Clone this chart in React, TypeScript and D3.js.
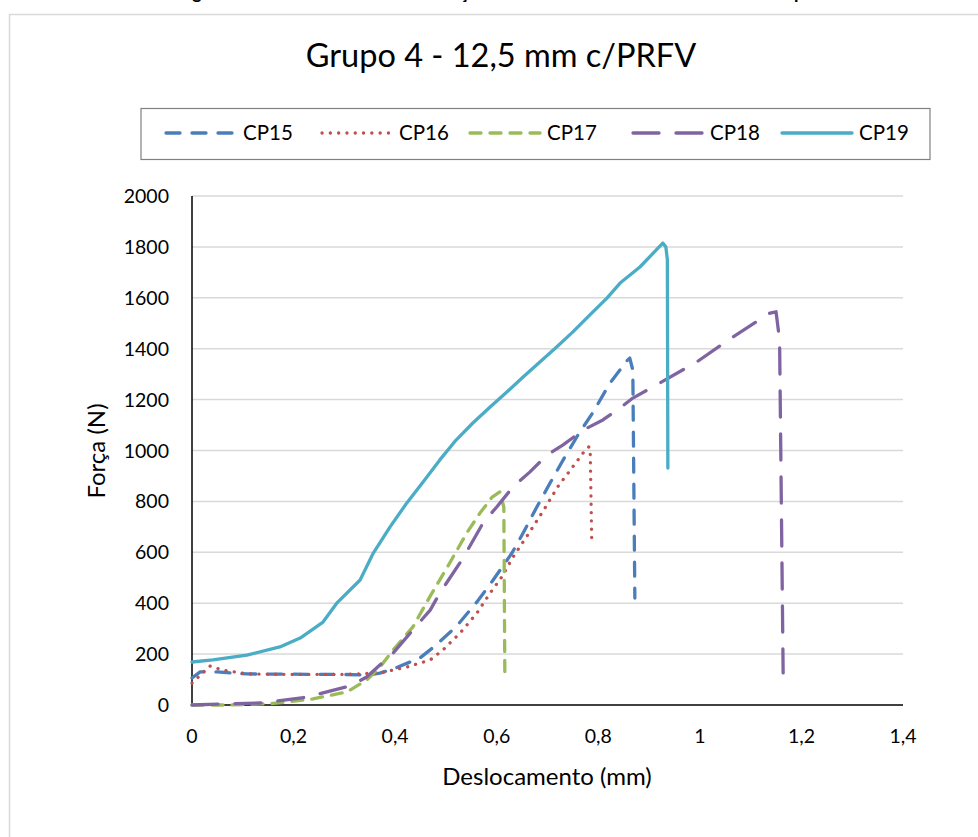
import React from "react";
import * as d3 from "d3";

const W = 978;
const H = 837;

const titleText = "Grupo 4 - 12,5 mm c/PRFV";
const xTitle = "Deslocamento (mm)";
const yTitle = "Força (N)";
const xTicks = [0, 0.2, 0.4, 0.6, 0.8, 1, 1.2, 1.4];
const yTicks = [0, 200, 400, 600, 800, 1000, 1200, 1400, 1600, 1800, 2000];

const seriesNames = ["CP15", "CP16", "CP17", "CP18", "CP19"];

const cp15X = [0, 0.016, 0.05, 0.075, 0.108, 0.2, 0.3, 0.344, 0.37, 0.4, 0.449, 0.476, 0.52, 0.561, 0.593, 0.63, 0.652, 0.679, 0.705, 0.734, 0.76, 0.79, 0.823, 0.858, 0.862, 0.868, 0.872];
const cp15Y = [106, 130, 130, 126, 122, 121, 120, 118, 125, 145, 185, 228, 307, 405, 491, 597, 676, 778, 872, 974, 1061, 1151, 1265, 1356, 1363, 1316, 420];

const cp16X = [0, 0.035, 0.061, 0.108, 0.2, 0.3, 0.37, 0.423, 0.469, 0.494, 0.528, 0.561, 0.587, 0.61, 0.632, 0.665, 0.695, 0.72, 0.748, 0.77, 0.781, 0.784, 0.787];
const cp16Y = [86, 153, 137, 122, 120, 120, 126, 149, 177, 216, 283, 361, 440, 503, 581, 680, 774, 857, 931, 990, 1014, 1010, 656];

const cp17X = [0, 0.075, 0.16, 0.238, 0.305, 0.344, 0.37, 0.396, 0.435, 0.469, 0.508, 0.541, 0.567, 0.591, 0.606, 0.614, 0.616];
const cp17Y = [0, 0, 6, 24, 51, 98, 149, 216, 307, 428, 560, 676, 754, 817, 837, 778, 118];

const cp18X = [0, 0.055, 0.14, 0.226, 0.311, 0.344, 0.396, 0.435, 0.469, 0.488, 0.534, 0.573, 0.6, 0.632, 0.665, 0.699, 0.73, 0.77, 0.809, 0.843, 0.868, 0.921, 0.994, 1.065, 1.138, 1.15, 1.157, 1.164];
const cp18Y = [0, 4, 8, 31, 75, 110, 204, 295, 373, 440, 578, 715, 778, 857, 915, 982, 1021, 1080, 1120, 1167, 1206, 1265, 1348, 1446, 1540, 1545, 1434, 126];

const cp19X = [0, 0.041, 0.108, 0.173, 0.213, 0.258, 0.285, 0.331, 0.357, 0.39, 0.423, 0.455, 0.488, 0.52, 0.553, 0.587, 0.62, 0.652, 0.685, 0.718, 0.75, 0.783, 0.817, 0.843, 0.882, 0.927, 0.933, 0.936, 0.937];
const cp19Y = [169, 177, 196, 228, 263, 326, 400, 491, 597, 700, 794, 876, 963, 1041, 1108, 1171, 1230, 1289, 1348, 1407, 1466, 1532, 1599, 1658, 1721, 1815, 1800, 1750, 931];

const seriesX = [cp15X, cp16X, cp17X, cp18X, cp19X];
const seriesY = [cp15Y, cp16Y, cp17Y, cp18Y, cp19Y];

const colors = ["#4a7ebb", "#c0504d", "#9bbb59", "#8064a2", "#4bacc6"];
const dashes = ["14,12", "0.1,8.2", "11,9", "26,17", ""];

const FONT = "Lato, 'Open Sans', sans-serif";

export default function App() {
  const x = d3.scaleLinear().domain([0, 1.4]).range([192, 903]);
  const y = d3.scaleLinear().domain([0, 2000]).range([705, 196]);
  const line = d3
    .line<[number, number]>()
    .x((d) => x(d[0]))
    .y((d) => y(d[1]));

  const legendLineX = [166, 322, 470, 633, 782];
  const legendLen = 70;

  return (
    <svg
      width={W}
      height={H}
      style={{ position: "absolute", left: 0, top: 0, background: "#fff" }}
    >
      <rect x={0} y={0} width={W} height={H} fill="#fff" />
      {/* caption descenders from the figure caption above, clipped by the page edge */}
      <g fontFamily={FONT} fontWeight="bold" fontSize={18} fill="#000">
        <text x={197} y={-1} textAnchor="middle">g</text>
        <text x={464} y={-1} textAnchor="middle">ç</text>
        <text x={799} y={-1} textAnchor="middle">p</text>
      </g>
      <rect x={9.5} y={14.5} width={1000} height={900} fill="none" stroke="#d9d9d9" strokeWidth={1.5} />

      <text x={501} y={67} textAnchor="middle" fontFamily={FONT} fontSize={32.5} fill="#000">
        {titleText}
      </text>

      {/* legend */}
      <rect x={141} y={108.5} width={789} height={51} fill="none" stroke="#808080" strokeWidth={1.2} />
      {seriesNames.map((n, i) => (
        <g key={n}>
          <line
            x1={legendLineX[i]}
            x2={legendLineX[i] + legendLen}
            y1={133}
            y2={133}
            stroke={colors[i]}
            strokeWidth={3.3}
            strokeDasharray={dashes[i]}
            strokeLinecap="round"
          />
          <text
            x={legendLineX[i] + legendLen + 7}
            y={140}
            fontFamily={FONT}
            fontSize={20.5}
            fill="#000"
          >
            {n}
          </text>
        </g>
      ))}

      {/* gridlines */}
      {yTicks.filter((t) => t > 0).map((t) => (
        <line key={t} x1={x(0)} x2={x(1.4)} y1={y(t)} y2={y(t)} stroke="#d9d9d9" strokeWidth={1.5} />
      ))}

      {/* axes */}
      <line x1={x(0)} x2={x(0)} y1={y(2000)} y2={y(0)} stroke="#000" strokeWidth={1.5} />
      <line x1={x(0)} x2={x(1.4)} y1={y(0)} y2={y(0)} stroke="#000" strokeWidth={1.5} />

      {yTicks.map((t) => (
        <text key={t} x={169} y={y(t) + 7} textAnchor="end" fontFamily={FONT} fontSize={19.5} fill="#000">
          {t}
        </text>
      ))}
      {xTicks.map((t) => (
        <text key={t} x={x(t)} y={743} textAnchor="middle" fontFamily={FONT} fontSize={19.5} fill="#000">
          {String(t).replace(".", ",")}
        </text>
      ))}

      <text x={547} y={785} textAnchor="middle" fontFamily={FONT} fontSize={24} fill="#000">
        {xTitle}
      </text>
      <text
        transform={`translate(105,451) rotate(-90)`}
        textAnchor="middle"
        fontFamily={FONT}
        fontSize={24}
        fill="#000"
      >
        {yTitle}
      </text>

      {/* series */}
      {seriesNames.map((n, i) => {
        const pts = seriesX[i].map((v, k) => [v, seriesY[i][k]] as [number, number]);
        return (
          <path
            key={n}
            d={line(pts) || ""}
            fill="none"
            stroke={colors[i]}
            strokeWidth={3.3}
            strokeDasharray={dashes[i]}
            strokeLinecap="round"
            strokeLinejoin="round"
          />
        );
      })}
    </svg>
  );
}
